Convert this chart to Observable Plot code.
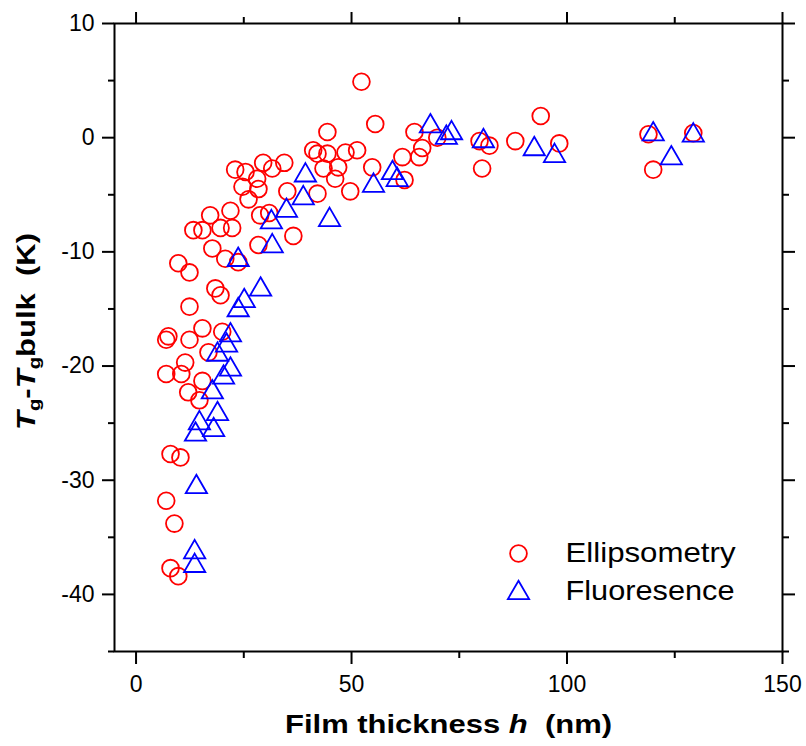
<!DOCTYPE html>
<html><head><meta charset="utf-8">
<script src="https://cdn.jsdelivr.net/npm/d3@7"></script>
<script src="https://cdn.jsdelivr.net/npm/@observablehq/plot@0.6"></script>
<style>body{margin:0;background:#fff} #chart svg{display:block;overflow:visible}</style>
</head><body><div id="chart"></div>
<script>
// Ellipsometry (red circles)
const ellipX = [52.3, 93.9, 55.5, 44.4, 64.6, 69.9, 79.7, 82.0, 88.0, 98.2, 80.3, 66.4, 65.7, 61.8, 62.3, 54.8, 51.3, 48.6, 46.9, 46.2, 49.7, 41.1, 42.1, 42.1, 43.5, 118.9, 129.3, 120.0, 29.5, 34.4, 31.6, 23.0, 25.4, 28.1, 24.7, 28.4, 35.1, 26.1, 36.5, 28.8, 30.9, 28.4, 21.9, 17.2, 15.4, 13.3, 19.6, 22.3, 17.7, 20.7, 23.7, 9.8, 12.4, 18.4, 19.6, 12.4, 7.0, 7.5, 12.4, 15.4, 20.0, 16.8, 11.4, 7.0, 10.5, 15.4, 12.1, 14.7, 8.0, 10.3, 7.0, 8.9, 8.0, 9.8, 44.4];
const ellipY = [4.9, 1.9, 1.2, 0.5, 0.5, 0.0, -0.3, -0.7, -0.3, -0.5, -2.7, -0.9, -1.7, -1.7, -3.7, -2.6, -1.1, -1.3, -2.6, -3.6, -4.7, -1.1, -1.4, -4.9, -2.7, 0.3, 0.4, -2.8, -2.2, -2.2, -2.7, -2.8, -3.0, -3.6, -4.3, -4.5, -4.7, -5.4, -8.6, -6.8, -6.6, -9.4, -6.4, -6.8, -8.1, -8.1, -7.9, -7.9, -9.7, -10.6, -10.9, -11.0, -11.8, -13.2, -13.8, -14.8, -17.7, -17.4, -17.7, -16.7, -17.0, -18.8, -19.7, -20.7, -20.7, -21.3, -22.3, -23.0, -27.7, -28.0, -31.8, -33.8, -37.7, -38.4, -1.4];
// Fluoresence (blue triangles)
const fluorX = [68.3, 73.2, 72.0, 80.6, 92.4, 97.1, 59.5, 60.6, 55.1, 44.9, 120.0, 129.3, 124.2, 39.3, 38.8, 34.9, 31.4, 31.6, 23.7, 28.9, 25.1, 23.7, 21.9, 21.0, 18.9, 21.9, 20.3, 17.7, 18.9, 14.7, 18.0, 13.8, 14.0, 13.6, 13.6];
const fluorY = [1.0, 0.4, 0.0, -0.3, -1.0, -1.6, -3.1, -3.7, -4.2, -7.2, 0.3, 0.2, -1.8, -3.3, -5.3, -6.4, -7.4, -9.5, -10.7, -13.3, -14.3, -15.1, -17.3, -18.2, -19.0, -20.3, -21.0, -22.3, -24.2, -25.0, -25.6, -26.0, -30.6, -36.3, -37.5];

const xMajor = [0, 50, 100, 150];
const xMinor = [25, 75, 125];
const yMajor = [-40, -30, -20, -10, 0, 10];
const yMinor = [-45, -35, -25, -15, -5, 5];
const seriesNames = ["Ellipsometry", "Fluoresence"];

const ellip = ellipX.map((x, i) => ({x, y: ellipY[i]}));
const fluor = fluorX.map((x, i) => ({x, y: fluorY[i]}));

const noText = () => "";
const plot = Plot.plot({
  width: 806, height: 746,
  marginLeft: 114, marginRight: 24, marginTop: 23, marginBottom: 95,
  style: {fontFamily: "'Liberation Sans', Arial, sans-serif", fontSize: "23px", color: "black", background: "white"},
  x: {domain: [-5, 150]},
  y: {domain: [-45, 10]},
  marks: [
    Plot.axisY(yMajor, {anchor: "left", tickSize: 12, tickPadding: 8, strokeWidth: 2, tickFormat: d => String(d), label: null}),
    Plot.axisY(yMinor, {anchor: "left", tickSize: 6, strokeWidth: 2, tickFormat: noText, label: null}),
    Plot.axisY(yMajor, {anchor: "right", tickSize: 12, strokeWidth: 2, tickFormat: noText, label: null}),
    Plot.axisY(yMinor, {anchor: "right", tickSize: 6, strokeWidth: 2, tickFormat: noText, label: null}),
    Plot.axisX(xMajor, {anchor: "bottom", tickSize: 13, tickPadding: 11, strokeWidth: 2, tickFormat: d => String(d), label: null}),
    Plot.axisX(xMinor, {anchor: "bottom", tickSize: 7, strokeWidth: 2, tickFormat: noText, label: null}),
    Plot.axisX(xMajor, {anchor: "top", tickSize: 12, strokeWidth: 2, tickFormat: noText, label: null}),
    Plot.axisX(xMinor, {anchor: "top", tickSize: 7, strokeWidth: 2, tickFormat: noText, label: null}),
    Plot.frame({stroke: "black", strokeWidth: 2}),
    Plot.dot(ellip, {x: "x", y: "y", r: 8.4, symbol: "circle", stroke: "#ff0000", strokeWidth: 1.8, fill: "none"}),
    Plot.dot(fluor, {x: "x", y: "y", r: 7.9, symbol: "triangle", stroke: "#0000ff", strokeWidth: 1.8, fill: "none"}),
    // legend
    Plot.dot([seriesNames[0]], {x: null, y: null, frameAnchor: "top-left", dx: 404, dy: 530, r: 8.4, symbol: "circle", stroke: "#ff0000", strokeWidth: 1.8, fill: "none"}),
    Plot.dot([seriesNames[1]], {x: null, y: null, frameAnchor: "top-left", dx: 404, dy: 569.5, r: 7.9, symbol: "triangle", stroke: "#0000ff", strokeWidth: 1.8, fill: "none"}),
    Plot.text([seriesNames[0]], {x: null, y: null, text: d => d, frameAnchor: "top-left", lineAnchor: "middle", dx: 451, dy: 530, textAnchor: "start", fontSize: 28, fill: "black"}),
    Plot.text([seriesNames[1]], {x: null, y: null, text: d => d, frameAnchor: "top-left", lineAnchor: "middle", dx: 451, dy: 568, textAnchor: "start", fontSize: 28, fill: "black"})
  ]
});
document.getElementById("chart").appendChild(plot);

// stretch legend texts to the reference's wide lettering
const legendLen = {"Ellipsometry": 170, "Fluoresence": 169};
plot.querySelectorAll("text").forEach(t => {
  const s = t.textContent;
  if (legendLen[s]) { t.setAttribute("textLength", legendLen[s]); t.setAttribute("lengthAdjust", "spacingAndGlyphs"); }
});

const NS = "http://www.w3.org/2000/svg";
function richText(attrs, parts) {
  const t = document.createElementNS(NS, "text");
  for (const k in attrs) t.setAttribute(k, attrs[k]);
  for (const p of parts) {
    const s = document.createElementNS(NS, "tspan");
    s.textContent = p.t;
    for (const k in p) if (k !== "t") s.setAttribute(k, p[k]);
    t.appendChild(s);
  }
  plot.appendChild(t);
  return t;
}
const fam = "'Liberation Sans', Arial, sans-serif";
// x axis title
richText({x: 448.5, y: 733, "text-anchor": "middle", "font-family": fam, "font-size": 26, "font-weight": "bold", fill: "black", textLength: 327, lengthAdjust: "spacingAndGlyphs"},
  [{t: "Film thickness\u00a0"}, {t: "h", "font-style": "italic"}, {t: "\u00a0\u00a0(nm)"}]);
// y axis title
richText({transform: "translate(35,331.5) rotate(-90)", "text-anchor": "middle", "font-family": fam, "font-size": 26, "font-weight": "bold", fill: "black", textLength: 197, lengthAdjust: "spacingAndGlyphs"},
  [{t: "T", "font-style": "italic"}, {t: "g", dy: 5, "font-size": 17}, {t: "-", dy: -5}, {t: "T", "font-style": "italic"}, {t: "g", dy: 5, "font-size": 17}, {t: "bulk\u00a0\u00a0(K)", dy: -5}]);
</script>
</body></html>
